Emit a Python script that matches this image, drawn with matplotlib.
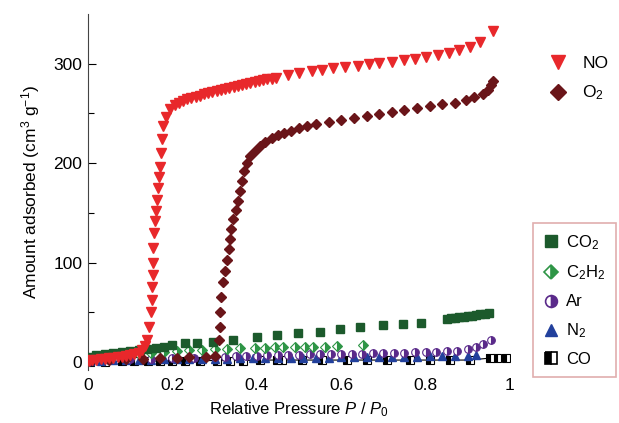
import matplotlib
matplotlib.use("Agg")
import matplotlib.pyplot as plt
from matplotlib.lines import Line2D

plt.rcParams['font.family'] = ['Liberation Sans', 'DejaVu Sans']
plt.rcParams['mathtext.fontset'] = 'custom'
plt.rcParams['mathtext.rm'] = 'Liberation Sans'
plt.rcParams['mathtext.it'] = 'Liberation Sans:italic'

# ---------------- data ----------------
no_x = [0.002, 0.01, 0.02, 0.03, 0.04, 0.05, 0.06, 0.07, 0.08, 0.09, 0.10, 0.11, 0.12, 0.128,
        0.134, 0.139, 0.145, 0.149, 0.151, 0.152, 0.153, 0.154, 0.155, 0.156, 0.158, 0.160,
        0.163, 0.165, 0.168, 0.171, 0.174, 0.176, 0.178, 0.185, 0.194, 0.205, 0.215, 0.225,
        0.235, 0.245, 0.255, 0.265, 0.275, 0.285, 0.295, 0.305, 0.315, 0.325, 0.335, 0.345,
        0.355, 0.365, 0.375, 0.385, 0.395, 0.405, 0.415, 0.425, 0.435, 0.445,
        0.475, 0.50, 0.53, 0.555, 0.58, 0.61, 0.64, 0.665, 0.69, 0.72, 0.75, 0.775,
        0.80, 0.83, 0.855, 0.88, 0.905, 0.93, 0.96]
no_y = [1, 2, 2.5, 3, 3.5, 4, 4.5, 5, 5.5, 6, 7, 8, 9, 12,
        16, 22, 35, 50, 62, 75, 88, 100, 115, 130, 142, 152,
        163, 175, 186, 196, 210, 224, 237, 246, 254, 258, 261, 263,
        265, 266, 267, 268, 269.5, 270.5, 271.5, 272.5, 273.5, 274.5, 275.5, 276.5,
        277.5, 278.5, 279.5, 280.5, 281.5, 282.5, 283.5, 284.5, 285, 286,
        289, 291, 293, 294, 295.5, 297, 298, 299.5, 301, 302, 303.5, 305,
        307, 309, 311, 314, 317, 322, 333]

o2_x = [0.01, 0.05, 0.09, 0.13, 0.17, 0.21, 0.24, 0.28, 0.30,
        0.31, 0.312, 0.313, 0.316, 0.32, 0.325, 0.329, 0.333, 0.336, 0.34, 0.344, 0.35,
        0.356, 0.36, 0.365, 0.37, 0.377, 0.385, 0.395, 0.408, 0.42, 0.435, 0.45, 0.465,
        0.48, 0.50, 0.52, 0.54, 0.57, 0.60, 0.63, 0.66, 0.69, 0.72, 0.75, 0.78, 0.81,
        0.84, 0.87, 0.895, 0.915, 0.935, 0.948, 0.955, 0.96]
o2_y = [2, 2, 3, 3, 4, 4, 5, 5, 6,
        22, 35, 50, 65, 80, 92, 103, 114, 124, 134, 144, 153,
        162, 172, 182, 192, 200, 207, 212, 217, 221, 225, 228, 230,
        232, 235, 237, 239, 241, 243, 245, 247, 249, 251, 253, 255, 257,
        259, 261, 264, 267, 270, 274, 279, 283]

co2_x = [0.005, 0.02, 0.04, 0.06, 0.08, 0.10, 0.12, 0.14, 0.16, 0.18, 0.20, 0.23, 0.258,
         0.296, 0.344, 0.40, 0.448, 0.498, 0.55, 0.597, 0.645, 0.70, 0.747, 0.79,
         0.85, 0.86, 0.87, 0.88, 0.89, 0.90, 0.91, 0.92, 0.93, 0.94, 0.95]
co2_y = [5, 7, 8, 9, 10, 11, 12, 13, 14, 15, 17, 19, 19,
         20, 22, 25, 27, 29, 30, 33, 35, 37, 38, 39,
         43, 44, 44.5, 45, 45.5, 46, 46.5, 47, 48, 48.5, 49]

c2h2_x = [0.005, 0.03, 0.06, 0.09, 0.12, 0.15, 0.18, 0.21, 0.24, 0.27, 0.30, 0.33, 0.36,
          0.396, 0.419, 0.443, 0.462, 0.49, 0.514, 0.533, 0.561, 0.59, 0.652]
c2h2_y = [4, 5, 6, 7, 8, 9, 10, 11, 12, 12, 13, 13, 14,
          14, 14, 15, 15, 15, 15, 15, 15, 16, 17]

ar_x = [0.005, 0.05, 0.10, 0.15, 0.20, 0.25, 0.30, 0.325, 0.35, 0.375, 0.40, 0.425, 0.45,
        0.475, 0.50, 0.525, 0.55, 0.575, 0.60, 0.625, 0.65, 0.675, 0.70, 0.725, 0.75,
        0.775, 0.80, 0.825, 0.85, 0.875, 0.90, 0.92, 0.935, 0.955]
ar_y = [1, 2, 3, 3, 4, 4.5, 5, 5.5, 6, 6, 6.5, 7, 7,
        7.5, 7.5, 8, 8, 8, 8.5, 8.5, 8.5, 9, 9, 9.5, 9.5,
        10, 10, 10.5, 11, 11.5, 13, 15, 18, 22]

n2_x = [0.005, 0.03, 0.06, 0.09, 0.12, 0.15, 0.18, 0.21, 0.24, 0.27, 0.30, 0.33, 0.36,
        0.39, 0.42, 0.45, 0.48, 0.51, 0.54, 0.57, 0.60, 0.63, 0.66, 0.69, 0.72, 0.75,
        0.78, 0.81, 0.84, 0.87, 0.90, 0.92]
n2_y = [1, 1.5, 2, 2, 2.5, 2.5, 3, 3, 3, 3.5, 3.5, 3.5, 4,
        4, 4, 4, 4.5, 4.5, 4.5, 4.5, 5, 5, 5, 5, 5.5, 5.5,
        5.5, 6, 6, 6, 6.5, 7]

co_x = [0.005, 0.04, 0.08, 0.11, 0.142, 0.17, 0.20, 0.23, 0.265, 0.305, 0.336, 0.367,
        0.408, 0.448, 0.46, 0.507, 0.554, 0.613, 0.66, 0.708, 0.763, 0.81, 0.858, 0.905,
        0.953, 0.97, 0.99]
co_y = [0.5, 0.5, 1, 1, 1, 1, 1, 1.5, 1.5, 1.5, 1.5, 1.5,
        2, 2, 2, 2, 2, 2, 2, 2, 2, 2, 2, 2,
        4, 4, 4]

x_ticks = [0, 0.2, 0.4, 0.6, 0.8, 1]
x_tick_labels = ['0', '0.2', '0.4', '0.6', '0.8', '1']
y_ticks = [0, 100, 200, 300]

# ---------------- figure ----------------
fig = plt.figure(figsize=(6.19, 4.23), dpi=100)
ax = fig.add_axes([88 / 619, 1 - 370 / 423, (510 - 88) / 619, (370 - 14) / 423])

c_no = '#e8282b'
c_o2 = '#6a1519'
c_co2 = '#1c5a2c'
c_c2h2 = '#2e9546'
c_ar = '#5a2a8a'
c_n2 = '#22409c'

ms = 6
ax.plot(co_x, co_y, color='black', lw=0.8, marker='s', ms=ms - 0.5, mfc='black',
        mfcalt='white', fillstyle='left', mec='black', mew=0.8, zorder=2)
ax.plot(n2_x, n2_y, ls='none', marker='^', ms=ms, color=c_n2, zorder=2)
ax.plot(ar_x, ar_y, ls='none', marker='o', ms=ms - 0.5, mfc=c_ar, mfcalt='white',
        fillstyle='right', mec=c_ar, mew=0.8, zorder=3)
ax.plot(c2h2_x, c2h2_y, ls='none', marker='D', ms=ms - 1, mfc=c_c2h2, mfcalt='white',
        fillstyle='right', mec=c_c2h2, mew=0.8, zorder=3)
ax.plot(co2_x, co2_y, ls='none', marker='s', ms=ms - 0.5, color=c_co2, zorder=3)
ax.plot(o2_x, o2_y, ls='none', marker='D', ms=ms - 1, color=c_o2, zorder=4)
ax.plot(no_x, no_y, ls='none', marker='v', ms=ms + 0.5, color=c_no, zorder=5)

ax.set_xlim(0, 1)
ax.set_ylim(-8, 350)
ax.set_xticks(x_ticks)
ax.set_xticklabels(x_tick_labels)
ax.set_yticks(y_ticks)
ax.set_yticks([50, 150, 250], minor=True)
ax.tick_params(axis='y', which='major', direction='in', length=6, width=0.8,
               labelsize=12.5, pad=4)
ax.tick_params(axis='y', which='minor', direction='in', length=4, width=0.8)
ax.tick_params(axis='x', length=0, labelsize=12.5, pad=6)
for s in ['top', 'right', 'bottom']:
    ax.spines[s].set_visible(False)
ax.spines['left'].set_color('#444444')
ax.spines['left'].set_bounds(-8, 350)

ax.set_xlabel('Relative Pressure $\\mathit{P}$ / $\\mathit{P}_0$', fontsize=12, labelpad=5)
ax.set_ylabel('Amount adsorbed (cm$^3$ g$^{-1}$)', fontsize=12.5, labelpad=8)

# legends
h1 = [Line2D([], [], ls='none', marker='v', ms=10, color=c_no),
      Line2D([], [], ls='none', marker='D', ms=8, color=c_o2)]
leg1 = fig.legend(h1, ['NO', 'O$_2$'], loc='upper left',
                  bbox_to_anchor=(532 / 619, 1 - 40 / 423), frameon=False,
                  fontsize=12.5, handlelength=1.2, handletextpad=0.8, labelspacing=0.75)

h2 = [Line2D([], [], ls='none', marker='s', ms=8, color=c_co2),
      Line2D([], [], ls='none', marker='D', ms=7.5, mfc=c_c2h2, mfcalt='white',
             fillstyle='right', mec=c_c2h2, mew=1.2),
      Line2D([], [], ls='none', marker='o', ms=8.5, mfc=c_ar, mfcalt='white',
             fillstyle='right', mec=c_ar, mew=1.2),
      Line2D([], [], ls='none', marker='^', ms=9, color=c_n2),
      Line2D([], [], ls='none', marker='s', ms=8, mfc='black', mfcalt='white',
             fillstyle='left', mec='black', mew=1.2)]
leg2 = fig.legend(h2, ['CO$_2$', 'C$_2$H$_2$', 'Ar', 'N$_2$', 'CO'], loc='upper left',
                  bbox_to_anchor=(533 / 619, 1 - 223 / 423), frameon=True, fancybox=False,
                  fontsize=12, handlelength=1.0, handletextpad=0.4, labelspacing=0.72,
                  borderpad=0.6, borderaxespad=0, edgecolor='#d99a9a')
leg2.get_frame().set_linewidth(1.2)

fig.savefig('out.png', dpi=100)
